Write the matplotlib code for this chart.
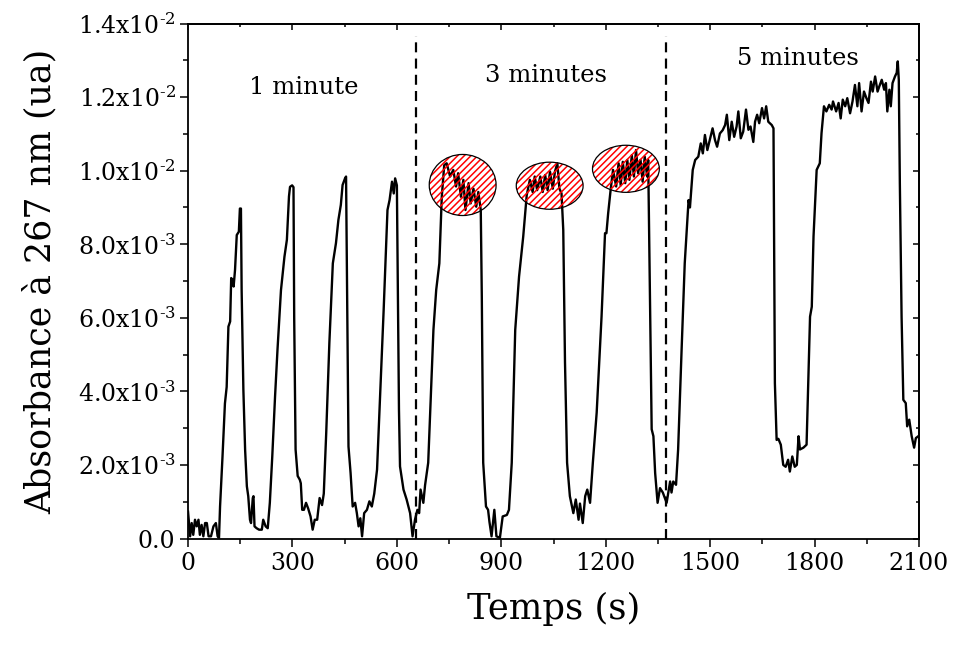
import numpy as np
import matplotlib
matplotlib.use("Agg")
import matplotlib.pyplot as plt
from matplotlib.patches import Ellipse
from matplotlib.ticker import MultipleLocator, FixedLocator

plt.rcParams['font.family'] = ['DejaVu Serif']
plt.rcParams['mathtext.fontset'] = 'dejavuserif'
plt.rcParams['hatch.linewidth'] = 1.1

# ---- data (time in s, absorbance in units of 1e-3) ----
time_s = [0, 6, 10.5, 15, 20, 25, 30, 34, 39, 44, 49, 54, 59, 66, 73, 80, 85, 89, 92, 99,
          106, 111, 116, 121, 124, 128, 131, 135, 140, 146, 149, 152, 154, 159, 164, 169, 173, 178, 181, 186,
          188, 191, 197, 204, 212, 216, 223, 229, 235, 242, 250, 257, 267, 277, 284, 290, 293, 299, 303, 305,
          309, 315, 321, 324, 328, 333, 339, 345, 352, 358, 364, 371, 378, 385, 390, 397, 406, 416, 425, 432,
          439, 444, 451, 454, 458, 461, 467, 473, 480, 485, 490, 495, 500, 506, 514, 521, 528, 535, 543, 552,
          562, 573, 579, 586, 591, 595, 600, 603, 606, 609, 619, 628, 638, 645, 652, 659, 664, 668, 676, 681,
          690, 705, 713, 722, 729, 736, 743, 753, 762, 770, 776, 784, 791, 797, 806, 812, 820, 828, 834, 841,
          844, 848, 856, 862, 866, 872, 880, 886, 896, 904, 916, 922, 930, 940, 951, 963, 973, 982, 990, 996,
          1003, 1012, 1019, 1026, 1033, 1040, 1048, 1054, 1061, 1067, 1073, 1078, 1083, 1089, 1097, 1107, 1114, 1122, 1126, 1134,
          1141, 1147, 1155, 1163, 1174, 1188, 1198, 1202, 1207, 1214, 1221, 1230, 1237, 1243, 1249, 1256, 1262, 1268, 1275, 1281,
          1287, 1293, 1300, 1306, 1312, 1319, 1322, 1327, 1332, 1337, 1342, 1349, 1356, 1364, 1375, 1385, 1389, 1394, 1402, 1408,
          1418, 1427, 1438, 1442, 1450, 1457, 1466, 1473, 1479, 1485, 1492, 1499, 1507, 1514, 1520, 1528, 1536, 1543, 1548, 1555,
          1562, 1569, 1576, 1581, 1588, 1595, 1603, 1610, 1616, 1624, 1629, 1635, 1641, 1649, 1655, 1661, 1667, 1677, 1682, 1684,
          1686, 1691, 1696, 1703, 1710, 1717, 1724, 1729, 1736, 1743, 1749, 1754, 1758, 1768, 1777, 1787, 1792, 1797, 1806, 1815,
          1820, 1827, 1834, 1842, 1849, 1853, 1862, 1869, 1875, 1881, 1888, 1894, 1902, 1909, 1916, 1923, 1928, 1935, 1942, 1949,
          1955, 1962, 1967, 1974, 1981, 1986, 1993, 2000, 2005, 2009, 2015, 2019, 2024, 2031, 2036, 2039, 2042, 2045, 2050, 2055,
          2062, 2066, 2072, 2079, 2086, 2091, 2098]
absorb_e3 = [0.73, 0.06, 0.42, 0.10, 0.51, 0.33, 0.51, 0.10, 0.37, 0.06, 0.42, 0.42, 0.06, 0.06, 0.33, 0.42, 0.06, 0.02, 0.87, 2.22,
             3.67, 4.12, 5.76, 5.90, 7.08, 7.03, 6.85, 7.30, 8.25, 8.34, 8.97, 8.97, 6.75, 4.04, 2.41, 1.42, 1.15, 0.51, 0.42, 1.10,
             1.15, 0.33, 0.28, 0.24, 0.24, 0.51, 0.33, 0.28, 0.97, 2.23, 3.86, 5.13, 6.75, 7.66, 8.12, 9.30, 9.56, 9.60, 9.55, 6.00,
             2.42, 1.70, 1.60, 1.50, 0.78, 0.78, 0.97, 0.82, 0.60, 0.24, 0.51, 0.51, 1.10, 0.91, 1.22, 2.87, 5.31, 7.48, 8.03, 8.66,
             9.07, 9.61, 9.79, 9.84, 5.76, 2.50, 1.78, 0.87, 0.97, 0.69, 0.33, 0.55, 0.06, 0.69, 0.78, 1.01, 0.87, 1.22, 1.87, 3.95,
             6.21, 8.93, 9.20, 9.70, 9.38, 9.79, 9.60, 6.66, 3.50, 1.96, 1.33, 1.06, 0.69, 0.06, 0.51, 0.78, 0.69, 1.33, 0.97, 1.45,
             2.06, 5.67, 6.76, 7.48, 9.29, 10.15, 10.20, 9.84, 10.02, 9.57, 9.93, 9.29, 9.75, 8.93, 9.66, 9.11, 9.51, 9.02, 9.42, 8.93,
             6.57, 2.06, 0.87, 0.78, 0.45, 0.06, 0.78, 0.06, 0.02, 0.60, 0.64, 0.78, 2.06, 5.67, 7.12, 8.21, 9.33, 9.75, 9.42, 9.84,
             9.47, 9.84, 9.42, 9.88, 9.47, 9.97, 9.51, 9.97, 10.20, 9.51, 9.38, 8.39, 4.79, 2.06, 1.15, 0.69, 1.06, 0.51, 0.95, 0.42,
             1.15, 1.33, 0.97, 2.06, 3.42, 6.03, 8.30, 8.30, 8.84, 9.47, 10.02, 9.57, 10.20, 9.60, 10.24, 9.66, 10.29, 9.75, 10.42, 9.84,
             10.56, 9.93, 10.29, 9.70, 10.38, 9.84, 10.29, 6.57, 2.97, 2.78, 1.78, 0.97, 1.37, 1.25, 0.97, 1.55, 1.25, 1.55, 1.46, 2.42,
             5.13, 7.48, 9.20, 9.00, 10.02, 10.29, 10.38, 10.74, 10.47, 10.97, 10.56, 10.83, 11.15, 10.83, 10.65, 11.01, 11.10, 11.24, 11.52, 10.83,
             11.33, 10.92, 11.20, 11.61, 10.88, 11.06, 11.66, 11.11, 11.20, 10.78, 11.33, 11.52, 11.29, 11.70, 11.42, 11.75, 11.33, 11.24, 11.15, 7.84,
             4.22, 2.68, 2.71, 2.55, 2.00, 1.95, 2.14, 1.82, 2.23, 1.95, 2.00, 2.78, 2.42, 2.47, 2.55, 6.03, 6.30, 8.21, 10.02, 10.20,
             11.02, 11.75, 11.61, 11.79, 11.66, 11.88, 11.61, 11.84, 11.42, 11.93, 11.75, 11.97, 11.56, 11.88, 12.33, 11.75, 12.38, 11.61, 12.15, 11.97,
             11.84, 12.42, 12.15, 12.56, 12.15, 12.29, 12.47, 12.20, 12.38, 11.61, 12.20, 11.75, 12.38, 12.56, 12.66, 12.97, 12.47, 9.66, 6.03, 3.77,
             3.68, 3.05, 3.23, 2.78, 2.47, 2.73, 2.78]

section_bounds = [654, 1372]
section_labels = ["1 minute", "3 minutes", "5 minutes"]
section_label_x = [333, 1028, 1752]
section_label_y = [12.25e-3, 12.6e-3, 13.06e-3]

# highlighted plateaus: center time, center absorbance, width (s), height
ell_x = [789, 1039, 1258]
ell_y = [9.61e-3, 9.59e-3, 10.05e-3]
ell_w = [192, 192, 192]
ell_h = [1.66e-3, 1.28e-3, 1.28e-3]

yticks = [0.0, 2e-3, 4e-3, 6e-3, 8e-3, 1.0e-2, 1.2e-2, 1.4e-2]
ytick_labels = ["0.0",
                r"$\mathregular{2.0x10^{‐3}}$", r"$\mathregular{4.0x10^{‐3}}$",
                r"$\mathregular{6.0x10^{‐3}}$", r"$\mathregular{8.0x10^{‐3}}$",
                r"$\mathregular{1.0x10^{‐2}}$", r"$\mathregular{1.2x10^{‐2}}$",
                r"$\mathregular{1.4x10^{‐2}}$"]
xticks = [0, 300, 600, 900, 1200, 1500, 1800, 2100]

# ---- figure ----
fig = plt.figure(figsize=(9.54, 6.51), dpi=100)
ax = fig.add_axes([0.1971, 0.1728, 0.9633 - 0.1971, 0.9639 - 0.1728])

t = np.array(time_s)
a = np.array(absorb_e3) * 1e-3
ax.plot(t, a, color='black', lw=1.7, zorder=3)

for xb in section_bounds:
    ax.vlines(xb, 0, 0.01365, colors='black', linestyles=(0, (4.5, 2.8)), lw=1.6, zorder=2)

for lab, lx, ly in zip(section_labels, section_label_x, section_label_y):
    ax.text(lx, ly, lab, fontsize=17.5, ha='center', va='center')

for ex, ey, ew, eh in zip(ell_x, ell_y, ell_w, ell_h):
    ax.add_patch(Ellipse((ex, ey), ew, eh, facecolor='none', edgecolor='red',
                         hatch='/////', lw=0, zorder=4))
    ax.add_patch(Ellipse((ex, ey), ew, eh, facecolor='none', edgecolor='black',
                         lw=0.9, zorder=5))

ax.set_xlim(0, 2100)
ax.set_ylim(0, 0.014)
ax.xaxis.set_major_locator(FixedLocator(xticks))
ax.xaxis.set_minor_locator(MultipleLocator(150))
ax.yaxis.set_major_locator(FixedLocator(yticks))
ax.yaxis.set_minor_locator(MultipleLocator(1e-3))
ax.set_xticklabels([str(v) for v in xticks])
ax.set_yticklabels(ytick_labels)

ax.tick_params(which='both', direction='out', top=False, right=False, width=1.1)
ax.tick_params(which='major', length=6, labelsize=17, pad=3)
ax.tick_params(which='minor', length=3.5)
ax.tick_params(axis='x', which='major', pad=4)

for s in ax.spines.values():
    s.set_linewidth(1.3)

# inward ticks on top and right
sx = ax.secondary_xaxis('top')
sx.xaxis.set_major_locator(FixedLocator(xticks))
sx.xaxis.set_minor_locator(MultipleLocator(150))
sx.tick_params(which='both', direction='in', labeltop=False, width=1.1)
sx.tick_params(which='major', length=4)
sx.tick_params(which='minor', length=2.5)
sx.spines['top'].set_linewidth(1.3)

sy = ax.secondary_yaxis('right')
sy.yaxis.set_major_locator(FixedLocator(yticks))
sy.yaxis.set_minor_locator(MultipleLocator(1e-3))
sy.tick_params(which='both', direction='in', labelright=False, width=1.1)
sy.tick_params(which='major', length=4)
sy.tick_params(which='minor', length=2.5)
sy.spines['right'].set_linewidth(1.3)

ax.set_xlabel("Temps (s)", fontsize=25.5, labelpad=12)
ax.set_ylabel("Absorbance à 267 nm (ua)", fontsize=25, labelpad=14)

fig.savefig("out.png", dpi=100)
